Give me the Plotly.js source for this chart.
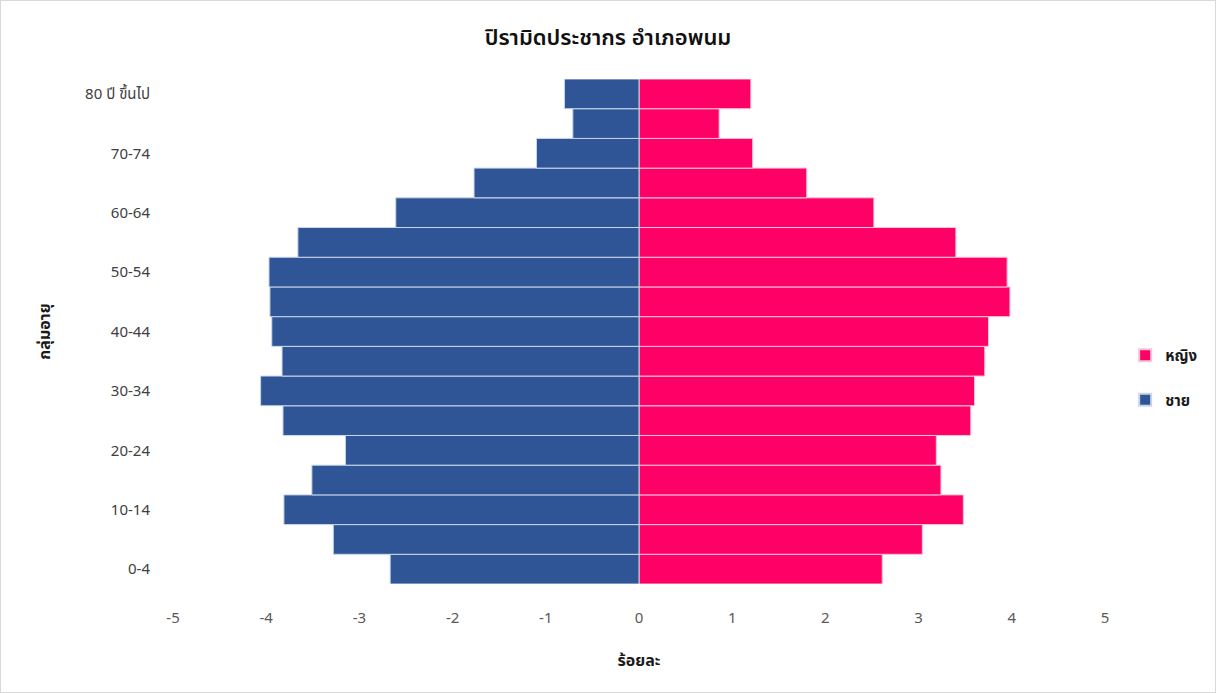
<!DOCTYPE html>
<html>
<head>
<meta charset="utf-8">
<script src="https://cdn.plot.ly/plotly-3.0.1.min.js"></script>
<style>
html,body{margin:0;padding:0;background:#fff;}
#chart{width:1214px;height:691px;border:1px solid #d9d9d9;}
</style>
</head>
<body>
<div id="chart"></div>
<script>
const ageGroups = ['0-4','5-9','10-14','15-19','20-24','25-29','30-34','35-39','40-44','45-49','50-54','55-59','60-64','65-69','70-74','75-79','80 ปี ขึ้นไป'];
const maleValues = [-2.67,-3.28,-3.81,-3.51,-3.15,-3.82,-4.06,-3.83,-3.94,-3.96,-3.97,-3.66,-2.61,-1.77,-1.10,-0.71,-0.80];
const femaleValues = [2.61,3.04,3.48,3.24,3.19,3.56,3.60,3.71,3.75,3.98,3.95,3.40,2.52,1.80,1.22,0.86,1.20];
const xTickVals = [-5,-4,-3,-2,-1,0,1,2,3,4,5];
const yTickVals = ['0-4','10-14','20-24','30-34','40-44','50-54','60-64','70-74','80 ปี ขึ้นไป'];

const thaiFont = 'Tahoma, "Noto Sans Thai", "Noto Sans", "DejaVu Sans", sans-serif';

const female = {
  type:'bar', orientation:'h', name:'หญิง', y:ageGroups, x:femaleValues, legendgroup:'f',
  marker:{color:'#FF0066', line:{color:'#f3c6d8', width:1}}
};
const male = {
  type:'bar', orientation:'h', name:'ชาย', y:ageGroups, x:maleValues, legendgroup:'m',
  marker:{color:'#2F5597', line:{color:'#c9d6ea', width:1}}
};

const layout = {
  width:1214, height:691,
  paper_bgcolor:'#fff', plot_bgcolor:'#fff',
  margin:{l:172, r:110, t:78, b:108},
  barmode:'relative', bargap:0,
  font:{family:thaiFont, color:'#595959', size:15},
  title:{text:'ปิรามิดประชากร อำเภอพนม', x:0.5, xref:'container', xanchor:'center', y:0.947, yanchor:'middle',
         font:{family:thaiFont, size:22, color:'#111', weight:600}},
  xaxis:{range:[-5,5], tickvals:xTickVals, ticktext:xTickVals.map(String), showgrid:false, zeroline:false,
         showline:false, ticks:'', ticklabelstandoff:23, tickfont:{size:15, color:'#595959'},
         title:{text:'ร้อยละ', standoff:25, font:{size:16, color:'#1a1a1a', weight:'bold'}}},
  yaxis:{type:'category', categoryorder:'array', categoryarray:ageGroups, range:[-0.5,16.5],
         tickvals:yTickVals, ticktext:yTickVals, showgrid:false, zeroline:false, showline:false, ticks:'',
         ticklabelstandoff:22, tickfont:{size:15, color:'#404040'},
         title:{text:'กลุ่มอายุ', standoff:30, font:{size:16, color:'#1a1a1a', weight:'bold'}}},
  legend:{xref:'container', yref:'container', x:0.926, y:0.455, xanchor:'left', yanchor:'middle', traceorder:'grouped',
          font:{size:15, color:'#1a1a1a', weight:'bold'}, itemsizing:'constant', itemwidth:30, tracegroupgap:22},
  showlegend:true
};

Plotly.newPlot('chart', [female, male], layout, {displayModeBar:false, staticPlot:true});
</script>
</body>
</html>
